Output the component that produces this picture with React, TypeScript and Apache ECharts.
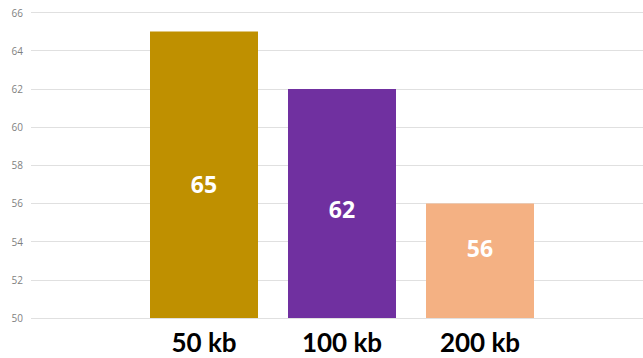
import React, { useEffect, useRef } from "react";
import * as echarts from "echarts";

const categories = ["50 kb", "100 kb", "200 kb"];
const values = [65, 62, 56];
const barColors = ["#BF9000", "#7030A0", "#F4B183"];
const labelOffsetsY = [9, 6, -13];
const yMin = 50;
const yMax = 66;
const yInterval = 2;

export default function App() {
  const ref = useRef<HTMLDivElement>(null);
  useEffect(() => {
    if (!ref.current) return;
    const chart = echarts.init(ref.current, undefined, { renderer: "svg" });
    chart.setOption({
      animation: false,
      backgroundColor: "#ffffff",
      grid: [
        { left: 31, right: 0, top: 12.5, bottom: 40 },
        { left: 135, width: 414, top: 12.5, bottom: 40 },
      ],
      xAxis: [
        { gridIndex: 0, type: "category", data: categories, show: false },
        {
          gridIndex: 1,
          type: "category",
          data: categories,
          axisLine: { show: false },
          axisTick: { show: false },
          axisLabel: {
            margin: 11,
            color: "#000000",
            fontFamily: "Lato",
            fontWeight: "bold",
            fontSize: 26,
          },
        },
      ],
      yAxis: [
        {
          gridIndex: 0,
          type: "value",
          min: yMin,
          max: yMax,
          interval: yInterval,
          axisLine: { show: false },
          axisTick: { show: false },
          axisLabel: {
            margin: 8,
            color: "#7f7f7f",
            fontFamily: "Open Sans",
            fontSize: 10,
          },
          splitLine: { lineStyle: { color: "#e0e0e0", width: 1 } },
        },
        {
          gridIndex: 1,
          type: "value",
          min: yMin,
          max: yMax,
          interval: yInterval,
          show: false,
          splitLine: { show: false },
        },
      ],
      series: [
        {
          type: "bar",
          xAxisIndex: 1,
          yAxisIndex: 1,
          barWidth: 108,
          data: values.map((v, i) => ({
            value: v,
            itemStyle: { color: barColors[i] },
            label: { offset: [0, labelOffsetsY[i]] },
          })),
          label: {
            show: true,
            position: "inside",
            color: "#ffffff",
            fontFamily: "Open Sans",
            fontWeight: "bold",
            fontSize: 23,
          },
        },
      ],
    });
    return () => chart.dispose();
  }, []);
  return <div ref={ref} style={{ width: 643, height: 358, position: "absolute", left: 0, top: 0 }} />;
}
